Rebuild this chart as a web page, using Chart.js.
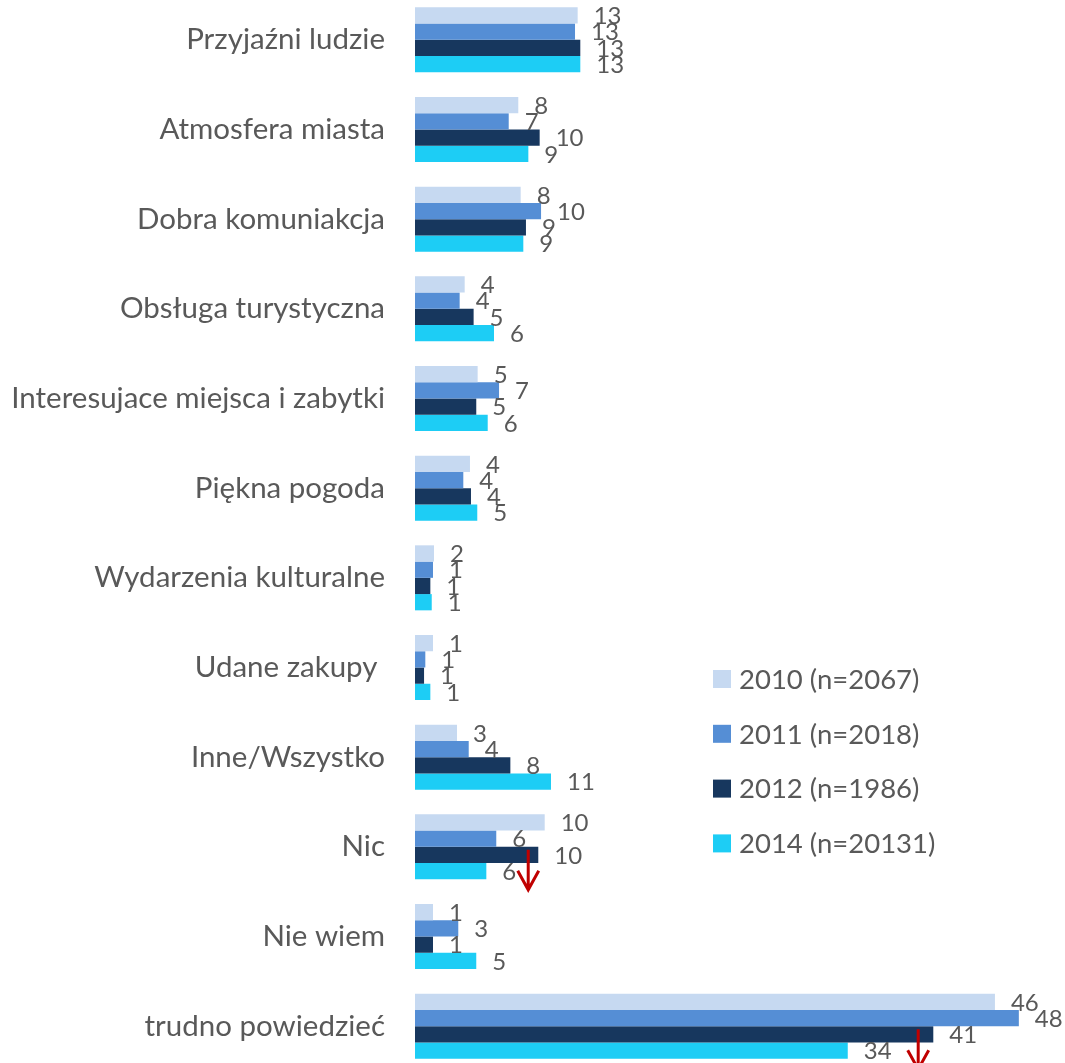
<!DOCTYPE html>
<html>
<head>
<meta charset="utf-8">
<script src="https://cdn.jsdelivr.net/npm/chart.js@4"></script>
<style>
  html, body { margin: 0; padding: 0; background: #fff; overflow: hidden; }
  #wrap { position: absolute; left: 0; top: -5px; width: 1065px; height: 1076px; }
</style>
</head>
<body>
<div id="wrap"><canvas id="mainChart"></canvas></div>
<script>
const categories = [
  'Przyjaźni ludzie',
  'Atmosfera miasta',
  'Dobra komuniakcja',
  'Obsługa turystyczna',
  'Interesujace miejsca i zabytki',
  'Piękna pogoda',
  'Wydarzenia kulturalne',
  'Udane zakupy ',
  'Inne/Wszystko',
  'Nic',
  'Nie wiem',
  'trudno powiedzieć',
];

const series2010 = [12.93, 8.21, 8.4, 3.95, 4.98, 4.37, 1.51, 1.43, 3.34, 10.31, 1.43, 46.1];
const series2011 = [12.72, 7.45, 10.02, 3.55, 6.68, 3.84, 1.43, 0.82, 4.27, 6.46, 3.44, 48.0];
const series2012 = [13.14, 9.91, 8.82, 4.66, 4.87, 4.45, 1.22, 0.72, 7.58, 9.8, 1.43, 41.2];
const series2014 = [13.14, 9.01, 8.61, 6.28, 5.78, 4.95, 1.33, 1.22, 10.81, 5.67, 4.87, 34.4];

const seriesNames = ['2010 (n=2067)', '2011 (n=2018)', '2012 (n=1986)', '2014 (n=20131)'];
const seriesColors = ['#C6D9F1', '#558ED5', '#17375E', '#1DCDF5'];

// red "decrease" arrows for 2014
const arrowMarks = [
  { category: 'Nic', value: 9 },
  { category: 'trudno powiedzieć', value: 40 },
];

const textColor = '#595959';
const fontFamily = 'Lato, "Open Sans", sans-serif';

// value labels after each bar
const valueLabels = {
  id: 'valueLabels',
  afterDatasetsDraw(chart) {
    const ctx = chart.ctx;
    ctx.save();
    ctx.fillStyle = textColor;
    ctx.font = '24px ' + fontFamily;
    ctx.textAlign = 'left';
    ctx.textBaseline = 'middle';
    chart.data.datasets.forEach((ds, i) => {
      const meta = chart.getDatasetMeta(i);
      meta.data.forEach((bar, j) => {
        ctx.fillText(String(Math.round(ds.data[j])), bar.x + 16, bar.y + 1);
      });
    });
    ctx.restore();
  },
};

// legend on the right
const sideLegend = {
  id: 'sideLegend',
  afterDraw(chart) {
    const ctx = chart.ctx;
    ctx.save();
    ctx.font = '27.5px ' + fontFamily;
    ctx.textBaseline = 'middle';
    ctx.textAlign = 'left';
    seriesNames.forEach((name, i) => {
      const yc = 684 + i * 54.8;
      ctx.fillStyle = seriesColors[i];
      ctx.fillRect(713, yc - 9, 18, 18);
      ctx.fillStyle = textColor;
      ctx.fillText(name, 739, yc + 1);
    });
    ctx.restore();
  },
};

const arrows = {
  id: 'arrows',
  afterDraw(chart) {
    const ctx = chart.ctx;
    const xs = chart.scales.x;
    const ys = chart.scales.y;
    ctx.save();
    ctx.strokeStyle = '#C00000';
    ctx.lineWidth = 3;
    arrowMarks.forEach((a) => {
      const x = xs.getPixelForValue(a.value);
      const yc = ys.getPixelForValue(categories.indexOf(a.category));
      ctx.beginPath();
      ctx.moveTo(x, yc + 3);
      ctx.lineTo(x, yc + 42);
      ctx.moveTo(x - 10.5, yc + 24);
      ctx.lineTo(x, yc + 43);
      ctx.lineTo(x + 10.5, yc + 24);
      ctx.stroke();
    });
    ctx.restore();
  },
};

const ctxMain = document.getElementById('mainChart').getContext('2d');
new Chart(ctxMain, {
  type: 'bar',
  data: {
    labels: categories,
    datasets: [
      { label: seriesNames[0], data: series2010, backgroundColor: seriesColors[0] },
      { label: seriesNames[1], data: series2011, backgroundColor: seriesColors[1] },
      { label: seriesNames[2], data: series2012, backgroundColor: seriesColors[2] },
      { label: seriesNames[3], data: series2014, backgroundColor: seriesColors[3] },
    ],
  },
  options: {
    indexAxis: 'y',
    responsive: true,
    maintainAspectRatio: false,
    animation: false,
    categoryPercentage: 0.725,
    barPercentage: 1.0,
    layout: {
      padding: { left: 0, right: 21, top: 0, bottom: 0 },
    },
    plugins: {
      legend: { display: false },
      tooltip: { enabled: false },
    },
    scales: {
      x: {
        display: false,
        min: 0,
        max: 50,
      },
      y: {
        grid: { display: false, drawTicks: false },
        border: { display: false },
        ticks: {
          color: textColor,
          padding: 30,
          font: { family: fontFamily, size: 29.5 },
        },
        afterFit: (scale) => {
          scale.width = 415;
          scale.paddingTop = 0;
          scale.paddingBottom = 0;
        },
      },
    },
  },
  plugins: [valueLabels, sideLegend, arrows],
});
</script>
</body>
</html>
